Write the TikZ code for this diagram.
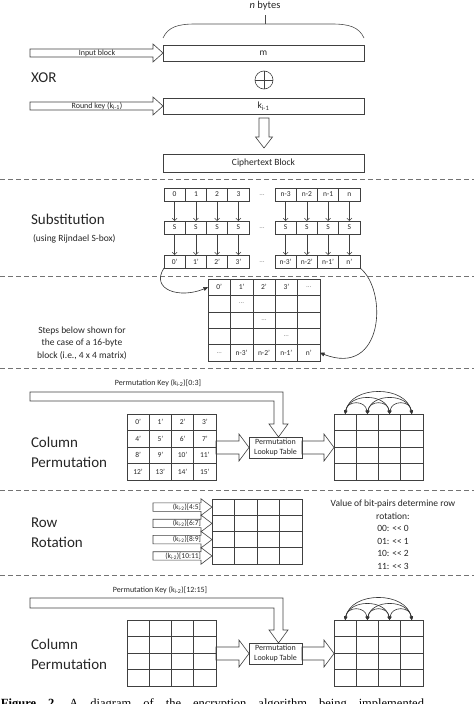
\documentclass[tikz,border=0pt]{standalone}
\usepackage{fontspec}
\setmainfont{Carlito}
\newfontfamily\capfont{Liberation Serif}
\usetikzlibrary{arrows.meta}
\newcommand{\myrarrow}[6]{% x1, xtip, yc, body half, head half, head length
  \draw[barrow] (#1,#3-#4) -- (#2-#6,#3-#4) -- (#2-#6,#3-#5) -- (#2,#3) -- (#2-#6,#3+#5) -- (#2-#6,#3+#4) -- (#1,#3+#4) -- cycle;}
\newcommand{\mykeyband}[4]{% ytop, ybot, y head start, y tip
  \draw[barrow] (30,#1) -- (283,#1) -- (283,#3) -- (288,#3) -- (278.5,#4) -- (269,#3) -- (274,#3) -- (274,#2) -- (30,#2) -- cycle;}
\newcommand{\shl}{{<}{<}}
\begin{document}
\begin{tikzpicture}[x=1pt,y=-1pt,
  every node/.style={inner sep=0pt, outer sep=0pt, text=black!85},
  ln/.style={draw=black!75, line width=0.6pt},
  barrow/.style={draw=black!75, line width=0.6pt, line join=miter},
  wbox/.style={ln, minimum width=201pt, font=\fontsize{9.5}{11}\selectfont},
  cell/.style={ln, minimum width=21.25pt, minimum height=13pt, font=\fontsize{7.5}{9}\selectfont},
  mcell/.style={ln, minimum width=22.4pt, minimum height=16.4pt},
  qcell/.style={ln, minimum width=22.25pt, minimum height=16.5pt, font=\fontsize{7.5}{9}\selectfont},
  rcell/.style={ln, minimum width=22.5pt, minimum height=16.25pt},
  pbox/.style={ln, minimum width=53pt, minimum height=21pt, align=center, font=\fontsize{8}{9.5}\selectfont},
  sarr/.style={draw=black!75, line width=0.5pt, -{Straight Barb[length=2.5pt,width=5pt]}},
  carr/.style={draw=black!80, line width=0.6pt, -{Triangle[length=4.5pt,width=4pt]}},
  arc/.style={draw=black!80, line width=0.6pt, {Triangle[length=3.5pt,width=3.2pt]}-{Triangle[length=3.5pt,width=3.2pt]}},
  sep/.style={draw=black!55, line width=0.7pt, dash pattern=on 5pt off 3pt},
  big/.style={font=\fontsize{15}{20}\selectfont, align=left, anchor=west},
  small/.style={font=\fontsize{9.5}{12.5}\selectfont},
  dots/.style={text=black!50, font=\fontsize{7}{8}\selectfont}
]
\useasboundingbox (0,0) rectangle (474,704);
\clip (0,0) rectangle (474,704);

% ---------- XOR section ----------
\node[font=\fontsize{10.5}{12}\selectfont] (nb) at (265,6) {\textit{n} bytes};
\draw[draw=black!70, line width=0.6pt] (163,38) .. controls (168,27) and (178,24) .. (195,24) -- (332,24) .. controls (349,24) and (359,27) .. (364,38);
\draw[draw=black!70, line width=0.6pt] (265,24) -- (265,15);

\node[wbox, minimum height=16pt] (m) at (263.5,53) {m};
\myrarrow{30}{163}{53}{4}{9}{10}
\node[font=\fontsize{8}{9}\selectfont] (ib) at (97,53) {Input block};

\node[big] (xor) at (31,78) {XOR};
\node[ln, circle, minimum size=18pt] (xc) at (264,80) {};
\draw[ln] (xc.north) -- (xc.south) (xc.west) -- (xc.east);

\node[wbox, minimum height=16pt] (k) at (263.5,106) {k\textsubscript{i-1}};
\myrarrow{30}{163}{106}{4}{9}{10}
\node[font=\fontsize{8}{9}\selectfont] (rk) at (97,106) {Round key (k\textsubscript{i-1})};

\node[wbox, minimum height=18pt] (ct) at (263.5,163) {Ciphertext Block};
\draw[barrow] (259,118) -- (269,118) -- (269,137) -- (272.5,137) -- (264,148) -- (255.5,137) -- (259,137) -- cycle;

\draw[sep] (0,179) -- (474,179);

% ---------- Substitution ----------
\node[big] (sub) at (31,219) {Substitution};
\node[small, anchor=west] (rij) at (33,239) {(using Rijndael S-box)};
\foreach \i/\x/\t/\u in {1/174.6/0/0',2/195.9/1/1',3/217.1/2/2',4/238.4/3/3',5/285.6/n-3/n-3',6/306.9/n-2/n-2',7/328.1/n-1/n-1',8/349.4/n/n'}{
  \node[cell] (a\i) at (\x,194.5) {\t};
  \node[cell] (s\i) at (\x,227.5) {S};
  \node[cell] (b\i) at (\x,261.5) {\u};
  \draw[sarr] (a\i) -- (s\i);
  \draw[sarr] (s\i) -- (b\i);
}
\node[dots] (d1) at (262,195) {\ldots};
\node[dots] (d2) at (262,228) {\ldots};
\node[dots] (d3) at (262,262) {\ldots};

\draw[sep] (0,276) -- (474,276);

% ---------- 5x5 matrix ----------
\foreach \r in {1,...,5}{
  \foreach \c in {1,...,5}{
    \node[mcell] (m\r\c) at ({208+22.4*(\c-0.5)},{279+16.4*(\r-0.5)}) {};
  }
}
\begin{scope}[every node/.append style={font=\fontsize{7.5}{9}\selectfont}]
\path (m11) node {0'} (m12) node {1'} (m13) node {2'} (m14) node {3'};
\path (m52) node {n-3'} (m53) node {n-2'} (m54) node {n-1'} (m55) node {n'};
\end{scope}
\path (m15) node[dots] {\ldots} (m22) node[dots] {\ldots} (m33) node[dots] {\ldots} (m44) node[dots] {\ldots} (m51) node[dots] {\ldots};
\draw[carr] (b1.south west) .. controls (150,290) and (180,299) .. (m11.west);
\draw[carr] (b8.south east) .. controls (388,290) and (384,378) .. (m55.east);
\node[small, align=center] (steps) at (82,343) {Steps below shown for\\the case of a 16-byte\\block (i.e., 4 x 4 matrix)};

\draw[sep] (0,368) -- (474,368);

% ---------- Column permutation 1 ----------
\node[font=\fontsize{8}{9}\selectfont] (pk1) at (158,383) {Permutation Key (k\textsubscript{i-2})[0:3]};
\mykeyband{392}{401}{424}{437}
\node[big] (cp1) at (31,452) {Column\\Permutation};
\foreach \r in {1,...,4}{
  \foreach \c in {1,...,4}{
    \pgfmathtruncatemacro{\v}{4*(\r-1)+\c-1}
    \node[qcell] (L\r\c) at ({127+22.25*(\c-0.5)},{414+16.5*(\r-0.5)}) {\v'};
    \node[qcell] (R\r\c) at ({334+22.25*(\c-0.5)},{414+16.5*(\r-0.5)}) {};
  }
}
\node[pbox] (P1) at (275.5,447.5) {Permutation\\Lookup Table};
\myrarrow{216}{249}{447.5}{6.5}{13.5}{10}
\myrarrow{302}{334}{447.5}{6.5}{13.5}{10}
\draw[arc] (R11.north) .. controls +(2,-14) and +(-2,-14) .. (R12.north);
\draw[arc] (R12.north) .. controls +(2,-14) and +(-2,-14) .. (R13.north);
\draw[arc] (R13.north) .. controls +(2,-14) and +(-2,-14) .. (R14.north);
\draw[arc] (R11.north) .. controls +(4,-21) and +(-4,-21) .. (R13.north);
\draw[arc] (R12.north) .. controls +(4,-21) and +(-4,-21) .. (R14.north);
\draw[arc] (R11.north) .. controls +(6,-29) and +(-6,-29) .. (R14.north);

\draw[sep] (0,490) -- (474,490);

% ---------- Row rotation ----------
\node[big] (rr) at (31,533) {Row\\Rotation};
\foreach \r in {1,...,4}{
  \foreach \c in {1,...,4}{
    \node[rcell] (W\r\c) at ({212+22.5*(\c-0.5)},{499+16.25*(\r-0.5)}) {};
  }
}
\foreach \yc/\t in {507.1/[4:5],523.4/[6:7],539.6/[8:9],555.9/[10:11]}{
  \myrarrow{153}{212}{\yc}{4.2}{8.3}{11}
  \node[anchor=east, font=\fontsize{7.5}{8}\selectfont] at (201,\yc) {(k\textsubscript{i-2})\t};
}
\node[small, align=center] (val) at (393,534.5) {Value of bit-pairs determine row\\rotation:\\00: \shl{} 0\\01: \shl{} 1\\10: \shl{} 2\\11: \shl{} 3};

\draw[sep] (0,575) -- (474,575);

% ---------- Column permutation 2 ----------
\node[font=\fontsize{8}{9}\selectfont] (pk2) at (160,590) {Permutation Key (k\textsubscript{i-2})[12:15]};
\mykeyband{598}{608}{630}{643}
\node[big] (cp2) at (31,654.5) {Column\\Permutation};
\foreach \r in {1,...,4}{
  \foreach \c in {1,...,4}{
    \node[qcell] (LL\r\c) at ({127+22.25*(\c-0.5)},{620+16.5*(\r-0.5)}) {};
    \node[qcell] (RR\r\c) at ({334+22.25*(\c-0.5)},{620+16.5*(\r-0.5)}) {};
  }
}
\node[pbox] (P2) at (275.5,653.5) {Permutation\\Lookup Table};
\myrarrow{216}{249}{653.5}{6.5}{13.5}{10}
\myrarrow{302}{334}{653.5}{6.5}{13.5}{10}
\draw[arc] (RR11.north) .. controls +(2,-14) and +(-2,-14) .. (RR12.north);
\draw[arc] (RR12.north) .. controls +(2,-14) and +(-2,-14) .. (RR13.north);
\draw[arc] (RR13.north) .. controls +(2,-14) and +(-2,-14) .. (RR14.north);
\draw[arc] (RR11.north) .. controls +(4,-21) and +(-4,-21) .. (RR13.north);
\draw[arc] (RR12.north) .. controls +(4,-21) and +(-4,-21) .. (RR14.north);
\draw[arc] (RR11.north) .. controls +(6,-29) and +(-6,-29) .. (RR14.north);

% ---------- caption (cut off, as in the reference) ----------
\node[anchor=base west, text=black, font=\capfont\fontsize{12.5}{14}\selectfont] (cap) at (1,707) {\frenchspacing\makebox[423pt][s]{\textbf{Figure 2.} A diagram of the encryption algorithm being implemented}};
\end{tikzpicture}
\end{document}
